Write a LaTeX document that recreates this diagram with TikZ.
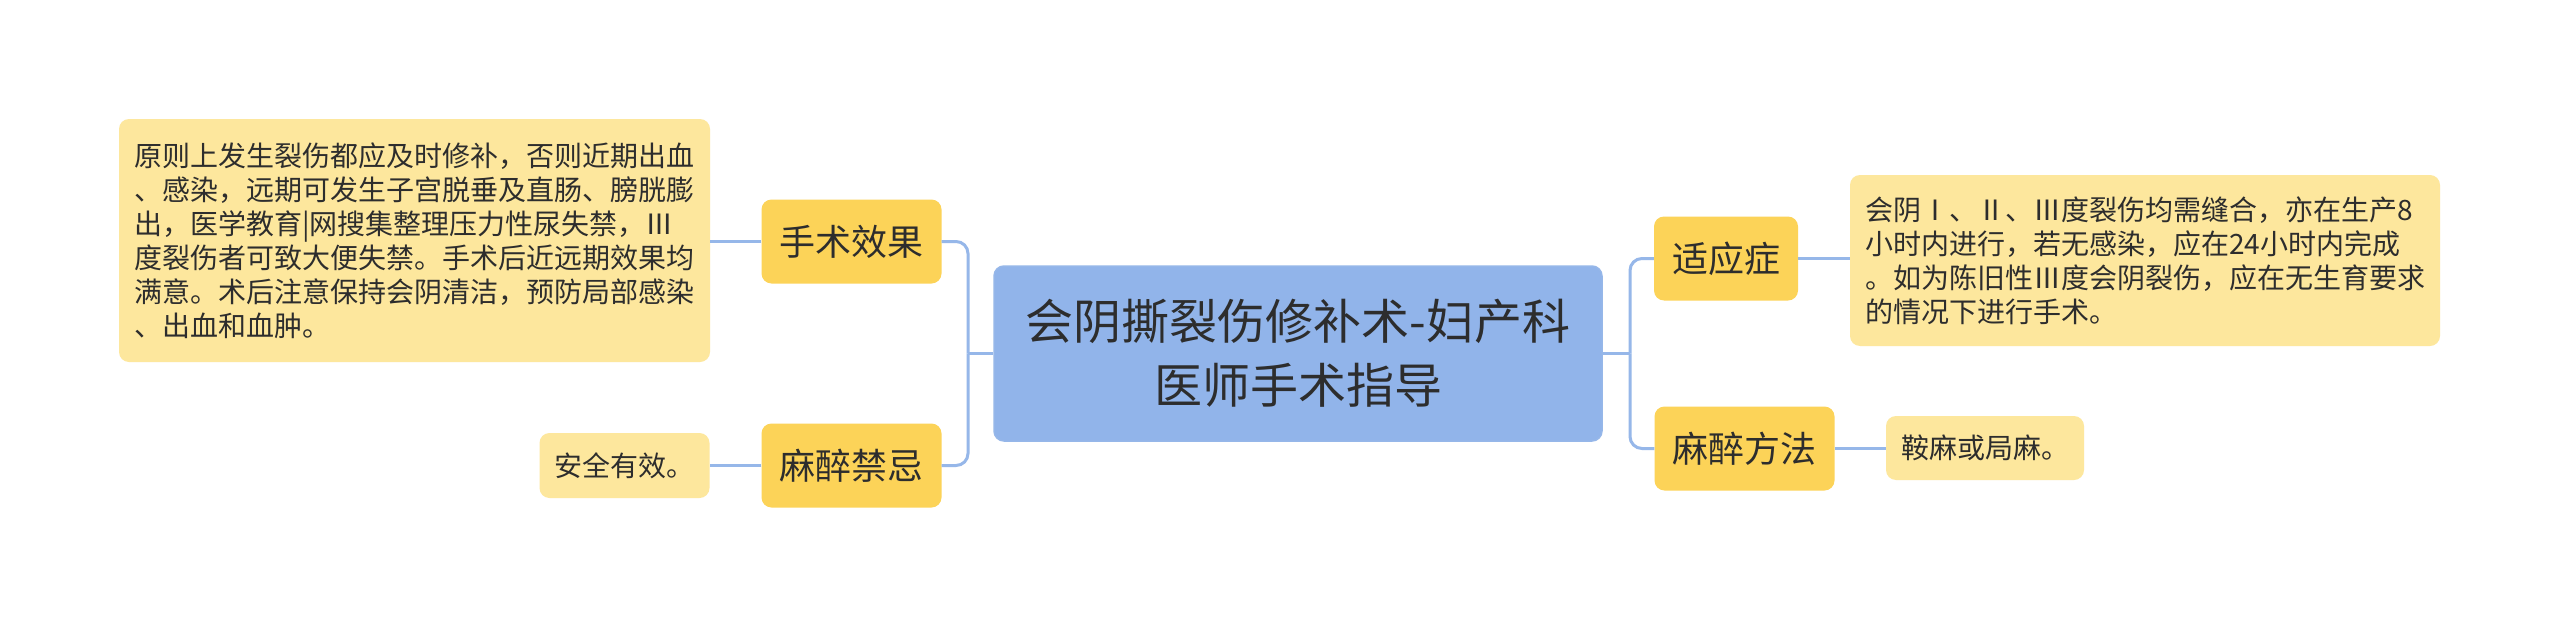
\documentclass[tikz,border=0pt]{standalone}
\usepackage{fontspec}
\setmainfont{Noto Sans CJK SC}
\newcommand{\fwroman}[1]{{\addfontfeature{RawFeature=+fwid}#1}}
\definecolor{cRoot}{RGB}{145,180,234}
\definecolor{cGold}{RGB}{252,211,88}
\definecolor{cLeaf}{RGB}{253,231,157}
\definecolor{cLine}{RGB}{150,183,233}
\definecolor{cTxt}{RGB}{45,45,45}
\tikzset{
  rootbox/.style={fill=cRoot, draw=cLine, line width=1.5pt, rounded corners=10pt,
    minimum width=608pt, minimum height=175pt, align=center, inner sep=0pt,
    font=\fontsize{48}{64}\selectfont, text=cTxt},
  branchbox/.style={fill=cGold, rounded corners=10pt, minimum height=84pt,
    inner xsep=18pt, inner ysep=0pt, font=\fontsize{36}{44}\selectfont, text=cTxt},
  leafbox/.style={fill=cLeaf, rounded corners=10pt, align=left,
    inner xsep=15pt, inner ysep=0pt, font=\fontsize{28}{34}\selectfont, text=cTxt},
  conn/.style={draw=cLine, line width=3pt, rounded corners=12pt}
}
\begin{document}
\begin{tikzpicture}[x=1pt,y=-1pt]
\fill[white] (0,0) rectangle (2560,629);
\useasboundingbox (0,0) rectangle (2560,629);

\node[rootbox] (root) at (1298,353.5) {会阴撕裂伤修补术-妇产科\\医师手术指导};

\node[branchbox] (b1) at (851.5,241.5) {手术效果};
\node[branchbox] (b2) at (851.5,465.5) {麻醉禁忌};
\node[branchbox] (b3) at (1726,258.5) {适应症};
\node[branchbox] (b4) at (1744.5,448.5) {麻醉方法};

\node[leafbox, text width=561pt, minimum height=243pt] (l1) at (414.5,240.5)
  {原则上发生裂伤都应及时修补，否则近期出血\\、感染，远期可发生子宫脱垂及直肠、膀胱膨\\出，医学教育|网搜集整理压力性尿失禁，\fwroman{Ⅲ}\\度裂伤者可致大便失禁。手术后近远期效果均\\满意。术后注意保持会阴清洁，预防局部感染\\、出血和血肿。};
\node[leafbox, minimum height=65pt] (l2) at (624.5,465.5) {安全有效。};
\node[leafbox, text width=560pt, minimum height=171pt] (l3) at (2145,260.5)
  {会阴\fwroman{Ⅰ}、\fwroman{Ⅱ}、\fwroman{Ⅲ}度裂伤均需缝合，亦在生产8\\小时内进行，若无感染，应在24小时内完成\\。如为陈旧性\fwroman{Ⅲ}度会阴裂伤，应在无生育要求\\的情况下进行手术。};
\node[leafbox, minimum height=64pt] (l4) at (1985,448) {鞍麻或局麻。};

\coordinate (jl) at (968,353.5);
\coordinate (jr) at (1630,353.5);

\draw[conn] (root.west) -- (jl);
\draw[conn] (jl) |- (b1.east);
\draw[conn] (jl) |- (b2.east);
\draw[conn] (root.east) -- (jr);
\draw[conn] (jr) |- (b3.west);
\draw[conn] (jr) |- (b4.west);

\draw[conn] (b1.west) -- (l1.east |- b1.west);
\draw[conn] (b2.west) -- (l2.east |- b2.west);
\draw[conn] (b3.east) -- (l3.west |- b3.east);
\draw[conn] (b4.east) -- (l4.west |- b4.east);
\end{tikzpicture}
\end{document}
